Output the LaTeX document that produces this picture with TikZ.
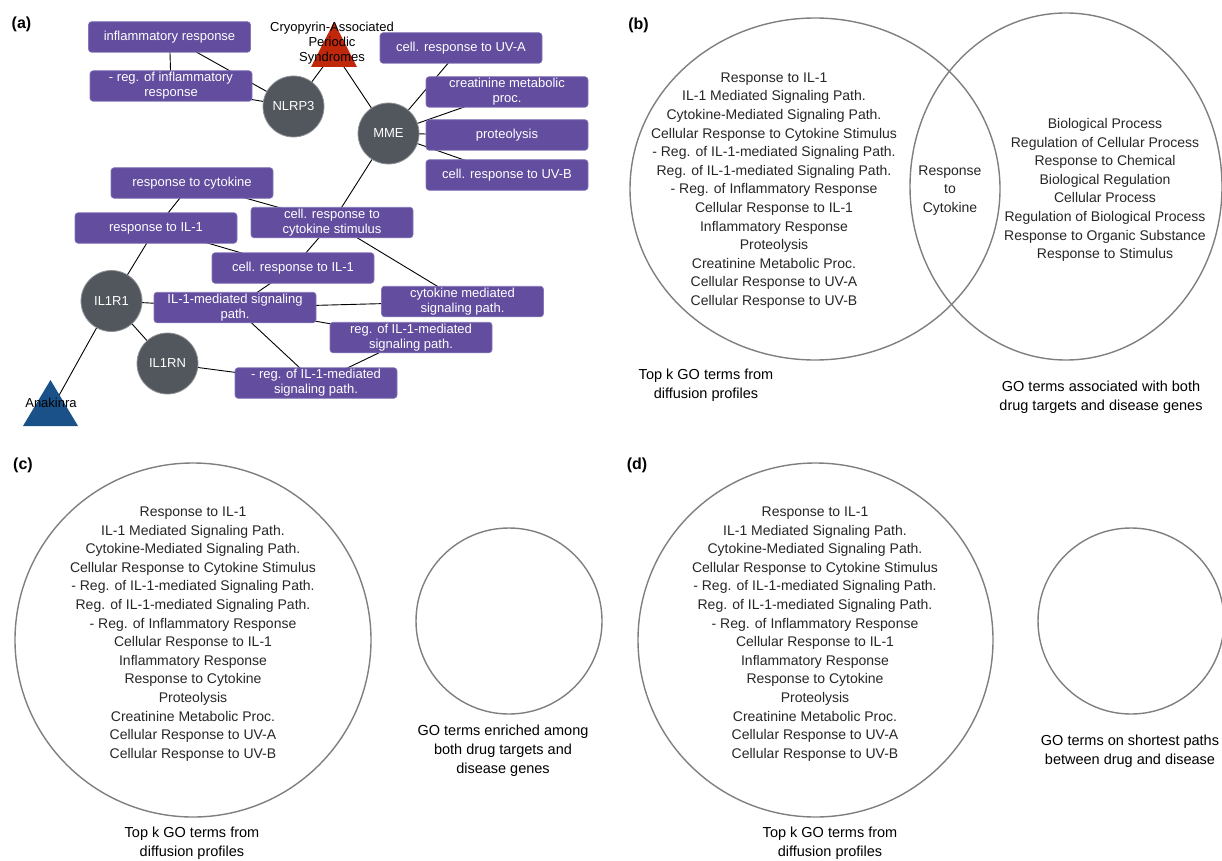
\documentclass[tikz,border=0pt]{standalone}
\usepackage{fontspec}
\setmainfont{Liberation Sans}
\usetikzlibrary{backgrounds}
\definecolor{boxpurple}{HTML}{624D9F}
\definecolor{boxedge}{HTML}{8576B8}
\definecolor{genegray}{HTML}{52575D}
\definecolor{geneedge}{HTML}{8E9297}
\definecolor{capsred}{HTML}{C0280C}
\definecolor{drugblue}{HTML}{1B5189}
\definecolor{venngray}{HTML}{7F7F7F}
\definecolor{venntext}{HTML}{262626}
\begin{document}
\begin{tikzpicture}[x=1pt,y=-1pt,
  goterm/.style={rectangle, rounded corners=3pt, fill=boxpurple, draw=boxedge, line width=0.6pt,
    minimum width=162pt, minimum height=30.5pt, inner sep=0pt, text=white, align=center,
    font=\fontsize{13}{15}\selectfont},
  gene/.style={circle, fill=genegray, draw=geneedge, line width=0.8pt, minimum size=61pt,
    inner sep=0pt, text=white, font=\fontsize{13}{15}\selectfont},
  link/.style={draw=black, line width=0.9pt},
  venn/.style={draw=venngray, line width=1.4pt},
  vtext/.style={align=center, text=venntext, font=\fontsize{14}{18.6}\selectfont, inner sep=0pt},
  caption/.style={align=center, text=black, font=\fontsize{14.5}{18.8}\selectfont, inner sep=0pt},
  panel/.style={text=black, font=\fontsize{16}{18}\bfseries\selectfont, inner sep=0pt},
  tlabel/.style={align=center, text=black, font=\fontsize{13}{15}\selectfont, inner sep=0pt}]
\useasboundingbox (0,0) rectangle (1222,861);
\clip (0,0) rectangle (1222,861);

% ---------------- panel labels
\node[panel] (pa) at (21.5,24) {(a)};
\node[panel] (pb) at (638.5,25) {(b)};
\node[panel] (pc) at (23,465) {(c)};
\node[panel] (pd) at (637,465) {(d)};

% ---------------- panel (a) network
\node[goterm] (infl) at (169.5,37) {inflammatory response};
\node[goterm] (reginfl) at (171,86) {- reg. of inflammatory\\response};
\node[gene] (nlrp3) at (293.5,106.5) {NLRP3};
\coordinate (caps) at (334,52);
\node[gene] (mme) at (388.5,133.5) {MME};
\node[goterm] (uva) at (461,48) {cell. response to UV-A};
\node[goterm] (creat) at (507,92) {creatinine metabolic\\proc.};
\node[goterm] (prot) at (507,135) {proteolysis};
\node[goterm] (uvb) at (507,175) {cell. response to UV-B};
\node[goterm] (respcyt) at (192,183) {response to cytokine};
\node[goterm] (respil) at (156,228) {response to IL-1};
\node[goterm] (cellcyt) at (332,222.5) {cell. response to\\cytokine stimulus};
\node[goterm] (cellil) at (293,268) {cell. response to IL-1};
\node[gene] (il1r1) at (111.5,301) {IL1R1};
\node[goterm] (ilmed) at (235,307.5) {IL-1-mediated signaling\\path.};
\node[goterm] (cytmed) at (462.5,301.5) {cytokine mediated\\signaling path.};
\node[goterm] (regil) at (411,337.5) {reg. of IL-1-mediated\\signaling path.};
\node[gene] (il1rn) at (167.5,363.5) {IL1RN};
\node[goterm] (negregil) at (316,383) {- reg. of IL-1-mediated\\signaling path.};
\coordinate (anak) at (50.5,410.7);

% triangles
\fill[capsred] (334,22) -- (357,67) -- (311,67) -- cycle;
\fill[drugblue] (50.5,380) -- (78,426) -- (23,426) -- cycle;
\node[tlabel] (capslabel) at (332,43.5) {Cryopyrin-Associated\\Periodic\\Syndromes};
\node[tlabel] (anaklabel) at (51,403) {Anakinra};

\begin{pgfonlayer}{background}
  \draw[link] (infl.center) -- (reginfl.center);
  \draw[link] (infl.center) -- (nlrp3.center);
  \draw[link] (reginfl.center) -- (nlrp3.center);
  \draw[link] (nlrp3.center) -- (caps);
  \draw[link] (mme.center) -- (caps);
  \draw[link] (mme.center) -- (uva.center);
  \draw[link] (mme.center) -- (creat.center);
  \draw[link] (mme.center) -- (prot.center);
  \draw[link] (mme.center) -- (uvb.center);
  \draw[link] (mme.center) -- (cellcyt.center);
  \draw[link] (respcyt.center) -- (respil.center);
  \draw[link] (respcyt.center) -- (cellcyt.center);
  \draw[link] (respil.center) -- (il1r1.center);
  \draw[link] (respil.center) -- (cellil.center);
  \draw[link] (cellcyt.center) -- (cellil.center);
  \draw[link] (cellcyt.center) -- (cytmed.center);
  \draw[link] (cellil.center) -- (ilmed.center);
  \draw[link] (il1r1.center) -- (ilmed.center);
  \draw[link] (ilmed.center) -- (cytmed.center);
  \draw[link] (ilmed.center) -- (regil.center);
  \draw[link] (ilmed.center) -- (negregil.center);
  \draw[link] (il1r1.center) -- (il1rn.center);
  \draw[link] (il1rn.center) -- (negregil.center);
  \draw[link] (regil.center) -- (negregil.center);
  \draw[link] (il1r1.center) -- (anak);
\end{pgfonlayer}

% ---------------- panel (b)
\draw[venn] (815,189) ellipse [x radius=185, y radius=171];
\draw[venn] (1066,186.5) ellipse [x radius=156, y radius=173.5];
\node[vtext] (bleft) at (774,190.5) {Response to IL-1\\IL-1 Mediated Signaling Path.\\Cytokine-Mediated Signaling Path.\\Cellular Response to Cytokine Stimulus\\- Reg. of IL-1-mediated Signaling Path.\\Reg. of IL-1-mediated Signaling Path.\\- Reg. of Inflammatory Response\\Cellular Response to IL-1\\Inflammatory Response\\Proteolysis\\Creatinine Metabolic Proc.\\Cellular Response to UV-A\\Cellular Response to UV-B};
\node[vtext] (bmid) at (950,190.5) {Response\\to\\Cytokine};
\node[vtext] (bright) at (1105,190) {Biological Process\\Regulation of Cellular Process\\Response to Chemical\\Biological Regulation\\Cellular Process\\Regulation of Biological Process\\Response to Organic Substance\\Response to Stimulus};
\node[caption] (bcap1) at (706,385) {Top k GO terms from\\diffusion profiles};
\node[caption] (bcap2) at (1101,397.5) {GO terms associated with both\\drug targets and disease genes};

% ---------------- panel (c)
\draw[venn] (193,640) ellipse [x radius=178, y radius=177];
\draw[venn] (509,621) circle [radius=93];
\node[vtext] (cleft) at (193,634) {Response to IL-1\\IL-1 Mediated Signaling Path.\\Cytokine-Mediated Signaling Path.\\Cellular Response to Cytokine Stimulus\\- Reg. of IL-1-mediated Signaling Path.\\Reg. of IL-1-mediated Signaling Path.\\- Reg. of Inflammatory Response\\Cellular Response to IL-1\\Inflammatory Response\\Response to Cytokine\\Proteolysis\\Creatinine Metabolic Proc.\\Cellular Response to UV-A\\Cellular Response to UV-B};
\node[caption] (ccap1) at (192,843.5) {Top k GO terms from\\diffusion profiles};
\node[caption] (ccap2) at (503,751) {GO terms enriched among\\both drug targets and\\disease genes};

% ---------------- panel (d)
\draw[venn] (815.5,640) ellipse [x radius=177.5, y radius=177];
\draw[venn] (1131,621) circle [radius=93];
\node[vtext] (dleft) at (815,634) {Response to IL-1\\IL-1 Mediated Signaling Path.\\Cytokine-Mediated Signaling Path.\\Cellular Response to Cytokine Stimulus\\- Reg. of IL-1-mediated Signaling Path.\\Reg. of IL-1-mediated Signaling Path.\\- Reg. of Inflammatory Response\\Cellular Response to IL-1\\Inflammatory Response\\Response to Cytokine\\Proteolysis\\Creatinine Metabolic Proc.\\Cellular Response to UV-A\\Cellular Response to UV-B};
\node[caption] (dcap1) at (830,843.5) {Top k GO terms from\\diffusion profiles};
\node[caption] (dcap2) at (1130,751) {GO terms on shortest paths\\between drug and disease};
\end{tikzpicture}
\end{document}
